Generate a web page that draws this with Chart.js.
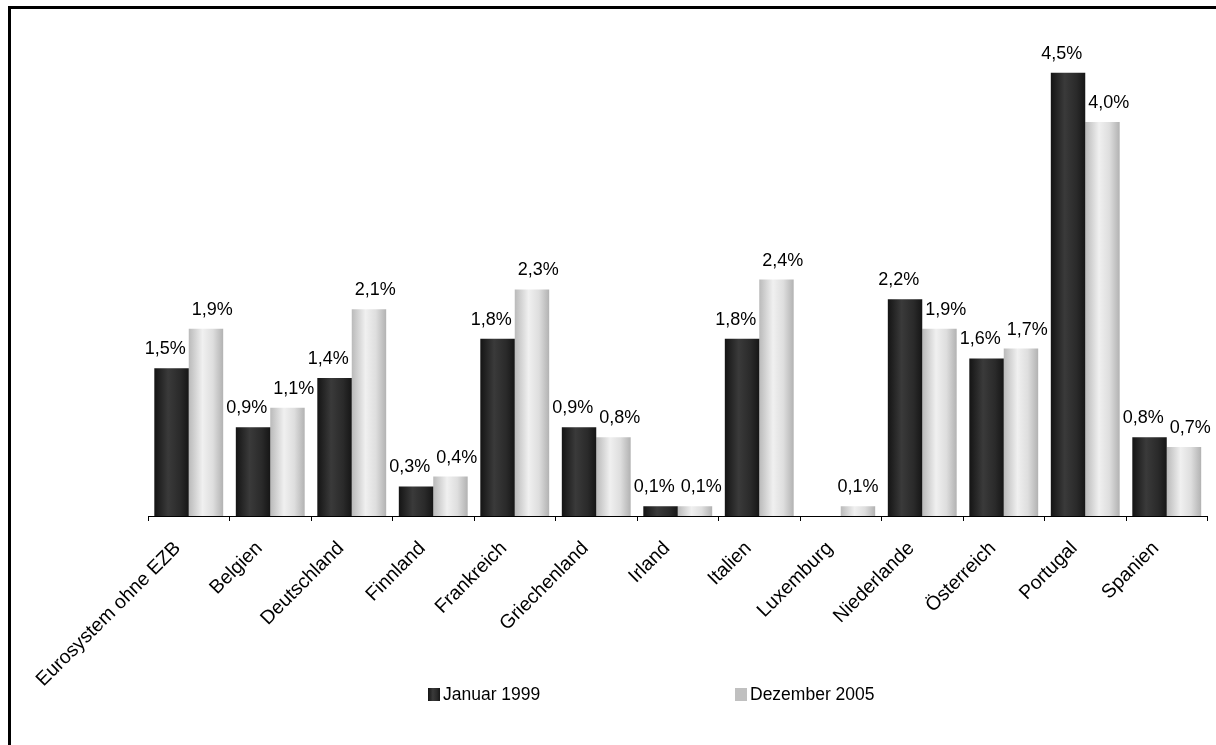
<!DOCTYPE html>
<html lang="de">
<head>
<meta charset="utf-8">
<title>Anteile Eurosystem</title>
<script src="https://cdn.jsdelivr.net/npm/chart.js@4.4.1/dist/chart.umd.min.js"></script>
<style>
  html, body { margin: 0; padding: 0; background: #fff; }
  #wrap { position: relative; width: 1216px; height: 745px; overflow: hidden; }
  #frame {
    position: absolute; left: 8px; top: 6px; width: 1300px; height: 800px;
    border-left: 3px solid #000; border-top: 3px solid #000; box-sizing: border-box;
    pointer-events: none;
  }
  canvas { position: absolute; left: 0; top: 0; }
  .legend {
    position: absolute; top: 684px; font-family: "Liberation Sans", Arial, sans-serif;
    font-size: 17.5px; color: #000; display: flex; align-items: center; white-space: nowrap;
  }
  .legend i { display: inline-block; width: 12px; height: 13px; margin-right: 3px; }
  #lg1 { left: 428px; }
  #lg2 { left: 735px; }
  #lg1 i { background: linear-gradient(to right, #141414 0%, #3a3a3a 40%, #2a2a2a 75%, #161616 100%); }
  #lg2 i { background: #c0c0c0; }
</style>
</head>
<body>
<div id="wrap">
  <canvas id="chart" width="1216" height="745"></canvas>
  <div id="frame"></div>
  <div class="legend" id="lg1"><i></i>Januar 1999</div>
  <div class="legend" id="lg2"><i></i>Dezember 2005</div>
</div>
<script>
// Länder bzw. Aggregat
const categories = [
  'Eurosystem ohne EZB', 'Belgien', 'Deutschland', 'Finnland', 'Frankreich',
  'Griechenland', 'Irland', 'Italien', 'Luxemburg', 'Niederlande',
  'Österreich', 'Portugal', 'Spanien'
];
// Anteile in Prozent
const januar1999 = [1.5, 0.9, 1.4, 0.3, 1.8, 0.9, 0.1, 1.8, null, 2.2, 1.6, 4.5, 0.8];
const dezember2005 = [1.9, 1.1, 2.1, 0.4, 2.3, 0.8, 0.1, 2.4, 0.1, 1.9, 1.7, 4.0, 0.7];
const seriesNames = ['Januar 1999', 'Dezember 2005'];

const CAT_PCT = 0.845;
const FONT = '"Liberation Sans", Arial, sans-serif';

const fmt = v => v.toFixed(1).replace('.', ',') + '%';

// horizontal shading across each column
const stopsDark = [[0, '#141414'], [0.4, '#3a3a3a'], [0.75, '#2a2a2a'], [1, '#161616']];
const stopsLight = [[0, '#bababa'], [0.4, '#f0f0f0'], [0.7, '#dedede'], [1, '#b2b2b2']];

function barGradient(stops, fallback) {
  return function (ctx) {
    const chart = ctx.chart;
    const xs = chart.scales.x;
    if (!chart.chartArea || !xs || ctx.type !== 'data') return fallback;
    const center = xs.getPixelForValue(ctx.dataIndex);
    const w = xs.width / categories.length * CAT_PCT / 2;
    const left = ctx.datasetIndex === 0 ? center - w : center;
    const g = chart.ctx.createLinearGradient(left, 0, left + w, 0);
    stops.forEach(s => g.addColorStop(s[0], s[1]));
    return g;
  };
}

// value labels above the columns; the two labels of a group are kept apart
const valueLabels = {
  id: 'valueLabels',
  afterDatasetsDraw(chart) {
    const c = chart.ctx;
    const GAP = 6;
    c.save();
    c.font = '18px ' + FONT;
    c.fillStyle = '#000';
    c.textAlign = 'center';
    c.textBaseline = 'alphabetic';
    const m0 = chart.getDatasetMeta(0).data;
    const m1 = chart.getDatasetMeta(1).data;
    categories.forEach((_, i) => {
      const items = [];
      [[januar1999, m0], [dezember2005, m1]].forEach(([vals, els]) => {
        const v = vals[i];
        if (v === null || v === undefined) return;
        const t = fmt(v);
        items.push({ t, x: els[i].x, y: els[i].y - 14, w: c.measureText(t).width });
      });
      if (items.length === 2) {
        const [a, b] = items;
        const overlap = (a.x + a.w / 2 + GAP) - (b.x - b.w / 2);
        if (overlap > 0) { a.x -= overlap / 2; b.x += overlap / 2; }
      }
      items.forEach(it => c.fillText(it.t, it.x, it.y));
    });
    c.restore();
  }
};

new Chart(document.getElementById('chart'), {
  type: 'bar',
  data: {
    labels: categories,
    datasets: [
      { label: seriesNames[0], data: januar1999, backgroundColor: barGradient(stopsDark, '#2a2a2a'), borderWidth: 0 },
      { label: seriesNames[1], data: dezember2005, backgroundColor: barGradient(stopsLight, '#c0c0c0'), borderWidth: 0 }
    ]
  },
  options: {
    responsive: false,
    animation: false,
    devicePixelRatio: 1,
    layout: { padding: { left: 148, right: 8.5, top: 23.5, bottom: 0 } },
    datasets: { bar: { categoryPercentage: CAT_PCT, barPercentage: 1.0 } },
    plugins: { legend: { display: false }, tooltip: { enabled: false } },
    scales: {
      x: {
        afterFit(scale) { scale.height = 229; },
        grid: { display: true, offset: true, drawOnChartArea: false, drawTicks: true, tickLength: 5, color: '#000', lineWidth: 1 },
        border: { display: true, color: '#000', width: 1 },
        ticks: {
          autoSkip: false, minRotation: 45, maxRotation: 45, padding: 16, labelOffset: -11,
          color: '#000', font: { family: FONT, size: 19.5 }
        }
      },
      y: { display: false, min: 0, max: 5 }
    }
  },
  plugins: [valueLabels]
});
</script>
</body>
</html>
